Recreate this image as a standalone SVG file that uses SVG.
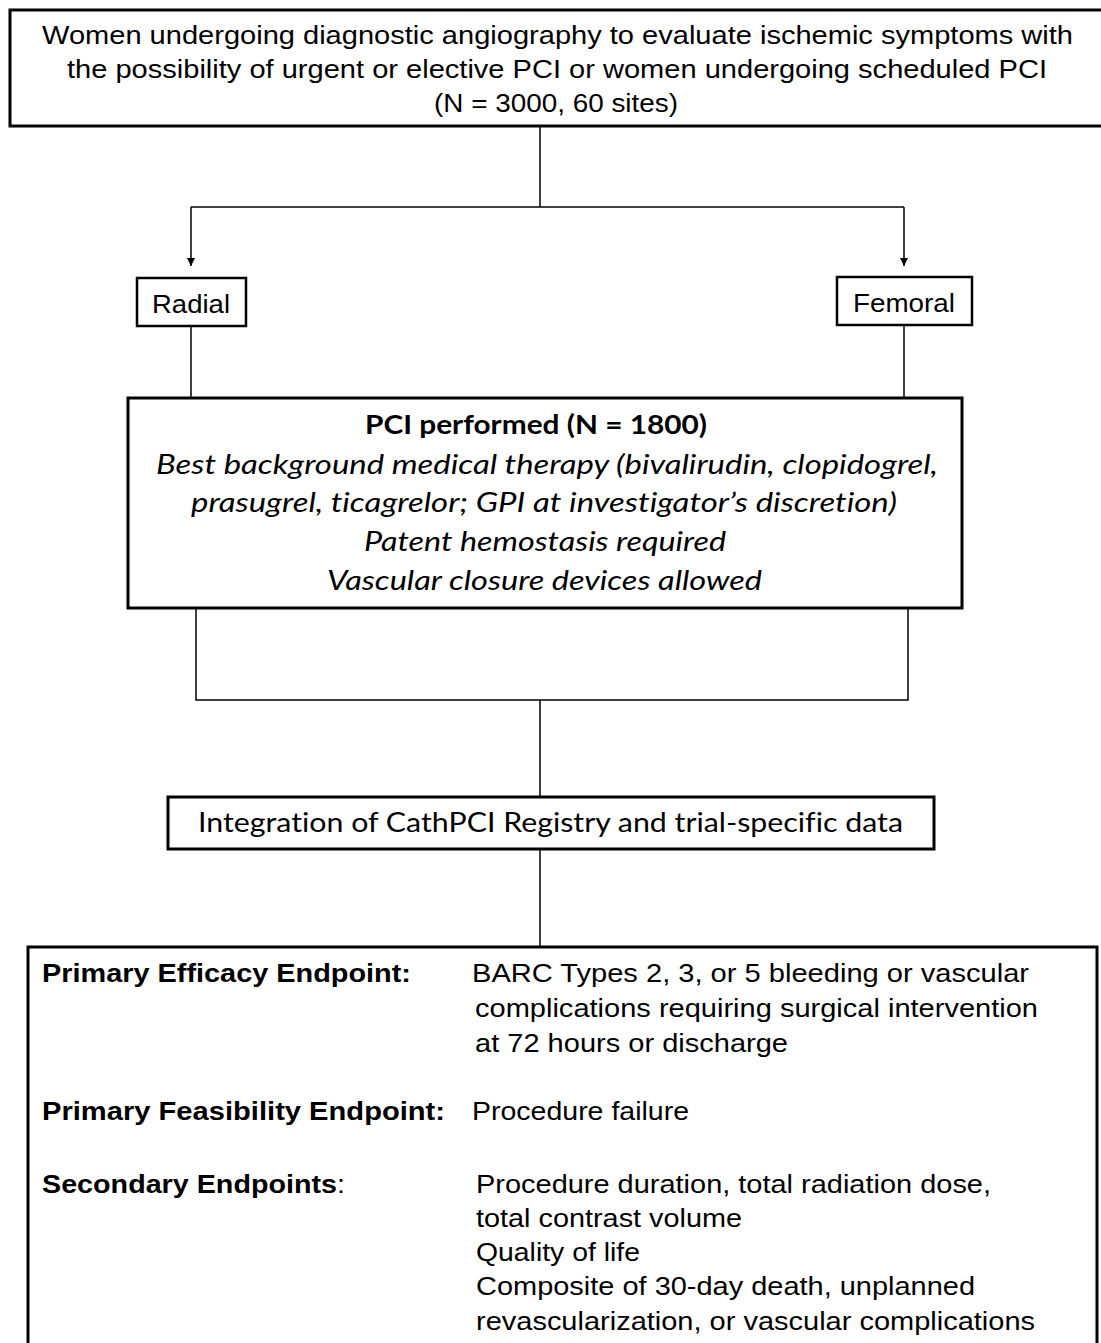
<svg xmlns="http://www.w3.org/2000/svg" width="1101" height="1343" viewBox="0 0 1101 1343">
<defs>
<style>
.box{fill:#fff;stroke:#000;stroke-width:3}
.sbox{fill:#fff;stroke:#000;stroke-width:2.5}
.con{fill:none;stroke:#000;stroke-width:1.5}
.ar{font-family:"Liberation Sans",Arial,sans-serif;font-size:26px;fill:#000}
.arb{font-family:"Liberation Sans",Arial,sans-serif;font-size:26px;font-weight:bold;fill:#000}
.cal{font-family:Lato,"Open Sans",sans-serif;font-size:27px;fill:#000;font-variant-ligatures:none}
.calb{font-family:Lato,"Open Sans",sans-serif;font-size:27px;font-weight:bold;fill:#000;font-variant-ligatures:none}
.cali{font-family:Lato,"Open Sans",sans-serif;font-size:27px;font-style:italic;fill:#000;font-variant-ligatures:none}
</style>
<marker id="arr" markerUnits="userSpaceOnUse" markerWidth="10" markerHeight="10" refX="8" refY="4" orient="auto">
<path d="M0,0 L8,4 L0,8 Z" fill="#000"/>
</marker>
</defs>
<rect width="1101" height="1343" fill="#fff"/>
<g id="connectors">
<path class="con" d="M540 127 V207"/>
<path class="con" d="M191 207 H904"/>
<path class="con" d="M191 207 V266" marker-end="url(#arr)"/>
<path class="con" d="M904 207 V266" marker-end="url(#arr)"/>
<path class="con" d="M191 326 V398"/>
<path class="con" d="M904 325 V398"/>
<path class="con" d="M196 608 V700 H908 V608"/>
<path class="con" d="M540 700 V797"/>
<path class="con" d="M540 849 V947"/>
</g>
<g id="population">
<rect class="box" x="10" y="10" width="1100" height="116"/>
<text class="ar" x="42" y="44" textLength="1031" lengthAdjust="spacingAndGlyphs">Women undergoing diagnostic angiography to evaluate ischemic symptoms with</text>
<text class="ar" x="67" y="78" textLength="980" lengthAdjust="spacingAndGlyphs">the possibility of urgent or elective PCI or women undergoing scheduled PCI</text>
<text class="ar" x="434" y="112" textLength="244" lengthAdjust="spacingAndGlyphs">(N = 3000, 60 sites)</text>
</g>
<g id="radial">
<rect class="sbox" x="137" y="278" width="109" height="48"/>
<text class="ar" x="152" y="313" font-size="27" textLength="78" lengthAdjust="spacingAndGlyphs">Radial</text>
</g>
<g id="femoral">
<rect class="sbox" x="837" y="277" width="135" height="48"/>
<text class="ar" x="853" y="312" font-size="27" textLength="102" lengthAdjust="spacingAndGlyphs">Femoral</text>
</g>
<g id="pci">
<rect class="box" x="128" y="398" width="834" height="210"/>
<text class="calb" x="365" y="434" textLength="342" lengthAdjust="spacingAndGlyphs">PCI performed (N = 1800)</text>
<text class="cali" x="156" y="474" textLength="782" lengthAdjust="spacingAndGlyphs">Best background medical therapy (bivalirudin, clopidogrel,</text>
<text class="cali" x="191" y="512" textLength="706" lengthAdjust="spacingAndGlyphs">prasugrel, ticagrelor; GPI at investigator’s discretion)</text>
<text class="cali" x="364" y="551" textLength="362" lengthAdjust="spacingAndGlyphs">Patent hemostasis required</text>
<text class="cali" x="327" y="590" textLength="435" lengthAdjust="spacingAndGlyphs">Vascular closure devices allowed</text>
</g>
<g id="integration">
<rect class="box" x="168" y="797" width="766" height="52"/>
<text class="cal" x="198" y="832" font-size="26" textLength="705" lengthAdjust="spacingAndGlyphs">Integration of CathPCI Registry and trial-specific data</text>
</g>
<g id="endpoints">
<rect class="box" x="28" y="947" width="1069" height="420"/>
<text class="arb" x="42" y="982" textLength="369" lengthAdjust="spacingAndGlyphs">Primary Efficacy Endpoint:</text>
<text class="ar" x="472" y="982" textLength="557" lengthAdjust="spacingAndGlyphs">BARC Types 2, 3, or 5 bleeding or vascular</text>
<text class="ar" x="475" y="1017" textLength="563" lengthAdjust="spacingAndGlyphs">complications requiring surgical intervention</text>
<text class="ar" x="475" y="1052" textLength="313" lengthAdjust="spacingAndGlyphs">at 72 hours or discharge</text>
<text class="arb" x="42" y="1120" textLength="403" lengthAdjust="spacingAndGlyphs">Primary Feasibility Endpoint:</text>
<text class="ar" x="472" y="1120" textLength="217" lengthAdjust="spacingAndGlyphs">Procedure failure</text>
<text class="ar" x="42" y="1193" textLength="303" lengthAdjust="spacingAndGlyphs"><tspan font-weight="bold">Secondary Endpoints</tspan>:</text>
<text class="ar" x="476" y="1193" textLength="515" lengthAdjust="spacingAndGlyphs">Procedure duration, total radiation dose,</text>
<text class="ar" x="476" y="1227" textLength="266" lengthAdjust="spacingAndGlyphs">total contrast volume</text>
<text class="ar" x="476" y="1261" textLength="164" lengthAdjust="spacingAndGlyphs">Quality of life</text>
<text class="ar" x="476" y="1295" textLength="499" lengthAdjust="spacingAndGlyphs">Composite of 30-day death, unplanned</text>
<text class="ar" x="476" y="1330" textLength="559" lengthAdjust="spacingAndGlyphs">revascularization, or vascular complications</text>
</g>
</svg>
